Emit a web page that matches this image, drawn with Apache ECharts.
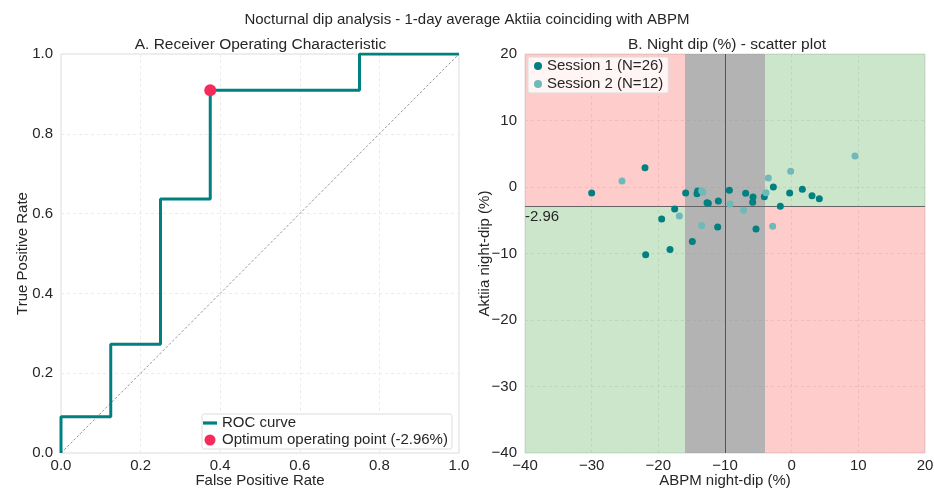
<!DOCTYPE html>
<html>
<head>
<meta charset="utf-8">
<script src="https://cdn.jsdelivr.net/npm/echarts@6/dist/echarts.min.js"></script>
<style>html,body{margin:0;padding:0;background:#fff}#c{width:934px;height:488px}</style>
</head>
<body>
<div id="c"></div>
<script>
// ROC curve (steps)
const rocFpr = [0, 0, 0.125, 0.125, 0.25, 0.25, 0.375, 0.375, 0.75, 0.75, 1];
const rocTpr = [0, 0.0909, 0.0909, 0.2727, 0.2727, 0.6364, 0.6364, 0.9091, 0.9091, 1, 1];
const optimumFpr = [0.375];
const optimumTpr = [0.9091];
const optimumLabel = 'Optimum operating point (-2.96%)';
const rocTicks = ['0.0', '0.2', '0.4', '0.6', '0.8', '1.0'];

// Scatter: ABPM night-dip vs Aktiia night-dip
const session1Abpm   = [-30, -22, -21.9, -19.5, -18.25, -17.55, -15.9, -14.1, -14.2, -14.9, -12.7, -12.5, -11.0, -11.1, -9.35, -6.9, -5.8, -5.85, -5.35, -4.1, -2.75, -1.7, -0.3, 1.6, 3.05, 4.15];
const session1Aktiia = [-0.9, 2.9, -10.2, -4.8, -9.4, -3.3, -0.9, -0.6, -1.0, -8.2, -2.35, -2.45, -2.1, -6.0, -0.5, -0.95, -1.5, -2.3, -6.3, -1.45, 0.0, -2.9, -0.9, -0.35, -1.3, -1.75];
const session2Abpm   = [-25.45, -16.85, -13.5, -13.3, -13.5, -9.25, -7.2, -3.85, -3.5, -0.15, -2.85, 9.5];
const session2Aktiia = [0.9, -4.35, -0.55, -0.8, -5.8, -2.55, -3.5, -0.85, 1.35, 2.35, -5.9, 4.65];
const abpmRange = [-40, 20];
const aktiiaRange = [-40, 20];
const abpmCut = -10;
const abpmBand = [-16, -4];
const aktiiaCut = -2.96;

const FONT = 'Liberation Sans, Arial, sans-serif';
const TXT = '#262626';
const TEAL = '#008080';
const TEAL_LIGHT = '#6fb9b9';
const PINK = '#f62b5b';

const zip = (a, b) => a.map((v, i) => [v, b[i]]);
const gridLine = { show: true, lineStyle: { color: '#ebebeb', type: [3, 3], width: 1 } };
const lbl = { color: TXT, fontSize: 15, fontFamily: FONT };
const nameStyle = { color: TXT, fontSize: 15, fontFamily: FONT };
const titleStyle = (size) => ({ fontSize: size, fontWeight: 'normal', color: TXT, fontFamily: FONT });

const chart = echarts.init(document.getElementById('c'), null, { renderer: 'canvas' });
chart.setOption({
  animation: false,
  textStyle: { fontFamily: FONT },
  title: [
    { text: 'Nocturnal dip analysis - 1-day average Aktiia coinciding with ABPM', left: 467, textAlign: 'center', top: 12, padding: 0,
      textStyle: titleStyle(15) },
    { text: 'A. Receiver Operating Characteristic', left: 260.5, textAlign: 'center', top: 37, padding: 0,
      textStyle: titleStyle(15.5) },
    { text: 'B. Night dip (%) - scatter plot', left: 727, textAlign: 'center', top: 37, padding: 0,
      textStyle: titleStyle(15.5) }
  ],
  grid: [
    { left: 61, right: 475, top: 54, bottom: 35, show: true, borderColor: '#dddddd', borderWidth: 1, backgroundColor: 'transparent', outerBoundsMode: 'none', containLabel: false },
    { left: 525, right: 9, top: 54, bottom: 35, show: true, borderColor: '#dddddd', borderWidth: 1, backgroundColor: 'transparent', outerBoundsMode: 'none', containLabel: false }
  ],
  xAxis: [
    { gridIndex: 0, type: 'value', min: 0, max: 1, interval: 0.2,
      axisLine: { show: false }, axisTick: { show: false },
      axisLabel: Object.assign({ margin: 5, formatter: (v) => rocTicks[Math.round(v * 5)] }, lbl),
      splitLine: gridLine,
      name: 'False Positive Rate', nameLocation: 'middle', nameGap: 20, nameMoveOverlap: false,
      nameTextStyle: nameStyle },
    { gridIndex: 1, type: 'value', min: abpmRange[0], max: abpmRange[1], interval: 10,
      axisLine: { show: false }, axisTick: { show: false },
      axisLabel: Object.assign({ margin: 5, formatter: (v) => String(v).replace('-', '\u2212') }, lbl),
      splitLine: gridLine,
      name: 'ABPM night-dip (%)', nameLocation: 'middle', nameGap: 20, nameMoveOverlap: false,
      nameTextStyle: nameStyle }
  ],
  yAxis: [
    { gridIndex: 0, type: 'value', min: 0, max: 1, interval: 0.2,
      axisLine: { show: false }, axisTick: { show: false },
      axisLabel: Object.assign({ margin: 8, formatter: (v) => rocTicks[Math.round(v * 5)] }, lbl),
      splitLine: gridLine,
      name: 'True Positive Rate', nameLocation: 'middle', nameGap: 31, nameMoveOverlap: false,
      nameTextStyle: nameStyle },
    { gridIndex: 1, type: 'value', min: aktiiaRange[0], max: aktiiaRange[1], interval: 10,
      axisLine: { show: false }, axisTick: { show: false },
      axisLabel: Object.assign({ margin: 8, formatter: (v) => String(v).replace('-', '\u2212') }, lbl),
      splitLine: gridLine,
      name: 'Aktiia night-dip (%)', nameLocation: 'middle', nameGap: 33, nameMoveOverlap: false,
      nameTextStyle: nameStyle }
  ],
  legend: [
    { data: [{ name: 'ROC curve', icon: 'path://M0,0h14v3.2h-14z' }, { name: optimumLabel, icon: 'circle' }],
      orient: 'vertical', left: 202, top: 414,
      itemWidth: 14, itemHeight: 11, itemGap: 2, padding: [1.5, 4, 1.5, 1],
      backgroundColor: '#ffffff', borderColor: '#dddddd', borderWidth: 1, borderRadius: 2,
      textStyle: { color: TXT, fontSize: 15, fontFamily: FONT } },
    { data: ['Session 1 (N=26)', 'Session 2 (N=12)'], orient: 'vertical', left: 528, top: 57,
      itemWidth: 8, itemHeight: 8, itemGap: 3, padding: [1.5, 5, 1.5, 6],
      backgroundColor: 'rgba(255,255,255,0.8)', borderColor: '#dddddd', borderWidth: 1, borderRadius: 2,
      textStyle: { color: TXT, fontSize: 15, fontFamily: FONT } }
  ],
  series: [
    { type: 'line', xAxisIndex: 0, yAxisIndex: 0, data: [[0, 0], [1, 1]], symbol: 'none', silent: true,
      lineStyle: { color: '#7a7a7a', width: 0.8, type: [2.5, 2] }, z: 2 },
    { name: 'ROC curve', type: 'line', xAxisIndex: 0, yAxisIndex: 0, data: zip(rocFpr, rocTpr), symbol: 'none',
      lineStyle: { color: TEAL, width: 3 }, itemStyle: { color: TEAL }, z: 3 },
    { name: optimumLabel, type: 'scatter', xAxisIndex: 0, yAxisIndex: 0, data: zip(optimumFpr, optimumTpr),
      symbolSize: 12, itemStyle: { color: PINK, opacity: 1 }, z: 4 },
    { name: 'Session 1 (N=26)', type: 'scatter', xAxisIndex: 1, yAxisIndex: 1, data: zip(session1Abpm, session1Aktiia),
      symbolSize: 7, itemStyle: { color: TEAL, opacity: 1 }, z: 5,
      markArea: { silent: true, data: [
        [{ coord: [abpmRange[0], aktiiaCut], itemStyle: { color: 'rgba(255,0,0,0.2)' } }, { coord: [abpmBand[0], aktiiaRange[1]] }],
        [{ coord: [abpmBand[1], aktiiaRange[0]], itemStyle: { color: 'rgba(255,0,0,0.2)' } }, { coord: [abpmRange[1], aktiiaCut] }],
        [{ coord: [abpmRange[0], aktiiaRange[0]], itemStyle: { color: 'rgba(0,128,0,0.2)' } }, { coord: [abpmBand[0], aktiiaCut] }],
        [{ coord: [abpmBand[1], aktiiaCut], itemStyle: { color: 'rgba(0,128,0,0.2)' } }, { coord: [abpmRange[1], aktiiaRange[1]] }],
        [{ coord: [abpmBand[0], aktiiaRange[0]], itemStyle: { color: 'rgba(128,128,128,0.6)' } }, { coord: [abpmBand[1], aktiiaRange[1]] }]
      ] },
      markLine: { silent: true, symbol: 'none', data: [
        { xAxis: abpmCut, lineStyle: { color: '#555555', width: 1, type: 'solid' }, label: { show: false } },
        { yAxis: aktiiaCut, lineStyle: { color: '#666666', width: 1, type: 'solid' },
          label: { show: true, position: 'insideStartBottom', formatter: String(aktiiaCut), color: TXT, fontSize: 15, fontFamily: FONT, distance: [0, 3] } }
      ] } },
    { name: 'Session 2 (N=12)', type: 'scatter', xAxisIndex: 1, yAxisIndex: 1, data: zip(session2Abpm, session2Aktiia),
      symbolSize: 7, itemStyle: { color: TEAL_LIGHT, opacity: 1 }, z: 5 }
  ]
});
</script>
</body>
</html>
